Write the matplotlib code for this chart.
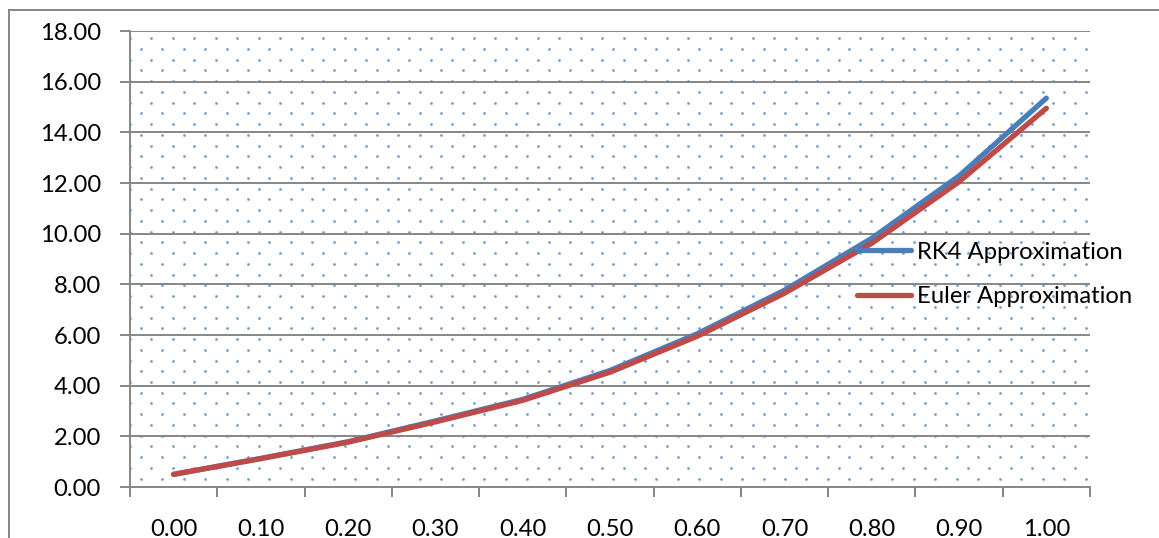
import numpy as np
import matplotlib
matplotlib.use("Agg")
import matplotlib.pyplot as plt
from matplotlib.lines import Line2D

plt.rcParams['font.family'] = ['Lato', 'DejaVu Sans']

# ---- data ----
x_labels = ["0.00", "0.10", "0.20", "0.30", "0.40", "0.50",
            "0.60", "0.70", "0.80", "0.90", "1.00"]
rk4 = [0.50, 1.13, 1.79, 2.61, 3.46, 4.60, 6.05, 7.77, 9.82, 12.28, 15.35]
euler = [0.50, 1.12, 1.77, 2.57, 3.42, 4.53, 5.95, 7.65, 9.62, 12.05, 14.95]
y_ticks = [0, 2, 4, 6, 8, 10, 12, 14, 16, 18]

W, H = 1159, 538
fig = plt.figure(figsize=(W / 100, H / 100), dpi=100)

L, R, T, B = 130, 1090, 31, 487
pos = [L / W, (H - B) / H, (R - L) / W, (B - T) / H]

GRID = "#868686"
BLUE = "#4a7ebb"
RED = "#be4b48"
DOT = "#5a8ccc"
FS = 17.2

# background dotted pattern (pixel coordinates)
ax_bg = fig.add_axes(pos, zorder=0)
ax_bg.set_xlim(L, R)
ax_bg.set_ylim(B, T)
ax_bg.axis("off")
p = 21.48
xs, ys = [], []
for j in range(-2, 30):
    for k in range(-2, 50):
        xs.append(151.3 + k * p); ys.append(38.3 + j * p)
        xs.append(140.6 + k * p); ys.append(49.0 + j * p)
ax_bg.scatter(xs, ys, s=4.0, color=DOT, linewidths=0, alpha=0.85)

# main axes
ax = fig.add_axes(pos, zorder=1)
ax.patch.set_alpha(0)
xi = np.arange(len(x_labels))
ax.plot(xi, rk4, color=BLUE, lw=3.8, solid_capstyle="round", label="RK4 Approximation", zorder=3)
ax.plot(xi, euler, color=RED, lw=3.8, solid_capstyle="round", label="Euler Approximation", zorder=4)

ax.set_xlim(-0.5, len(x_labels) - 0.5)
ax.set_ylim(0, 18)
ax.set_yticks(y_ticks)
ax.set_yticklabels([f"{v:.2f}" for v in y_ticks])
ax.yaxis.grid(True, color=GRID, lw=1.4)
ax.set_axisbelow(True)

ax.set_xticks(np.arange(-0.5, len(x_labels), 1.0))
ax.set_xticklabels([])
ax.set_xticks(xi, minor=True)
ax.set_xticklabels(x_labels, minor=True)
ax.tick_params(axis="x", which="major", length=7, width=1.4, color=GRID, direction="out")
ax.tick_params(axis="x", which="minor", length=0, pad=23, labelsize=FS)
ax.tick_params(axis="y", length=7, width=1.4, color=GRID, direction="out", pad=14, labelsize=FS)

for s in ["top", "right"]:
    ax.spines[s].set_visible(False)
for s in ["left", "bottom"]:
    ax.spines[s].set_color(GRID)
    ax.spines[s].set_linewidth(1.4)

leg = ax.legend(loc="center left", bbox_to_anchor=(857 / W, (H - 274.5) / H),
                bbox_transform=fig.transFigure, frameon=False, fontsize=FS,
                handlelength=2.25, handletextpad=0.25, labelspacing=1.0,
                borderaxespad=0, borderpad=0)

# outer chart border
fig.add_artist(Line2D([8.5 / W, 8.5 / W], [0, (H - 9.5) / H], color=GRID, lw=1.4,
                      transform=fig.transFigure))
fig.add_artist(Line2D([8.5 / W, 1.0], [(H - 9.5) / H, (H - 9.5) / H], color=GRID, lw=1.4,
                      transform=fig.transFigure))

fig.savefig("out.png", dpi=100)
